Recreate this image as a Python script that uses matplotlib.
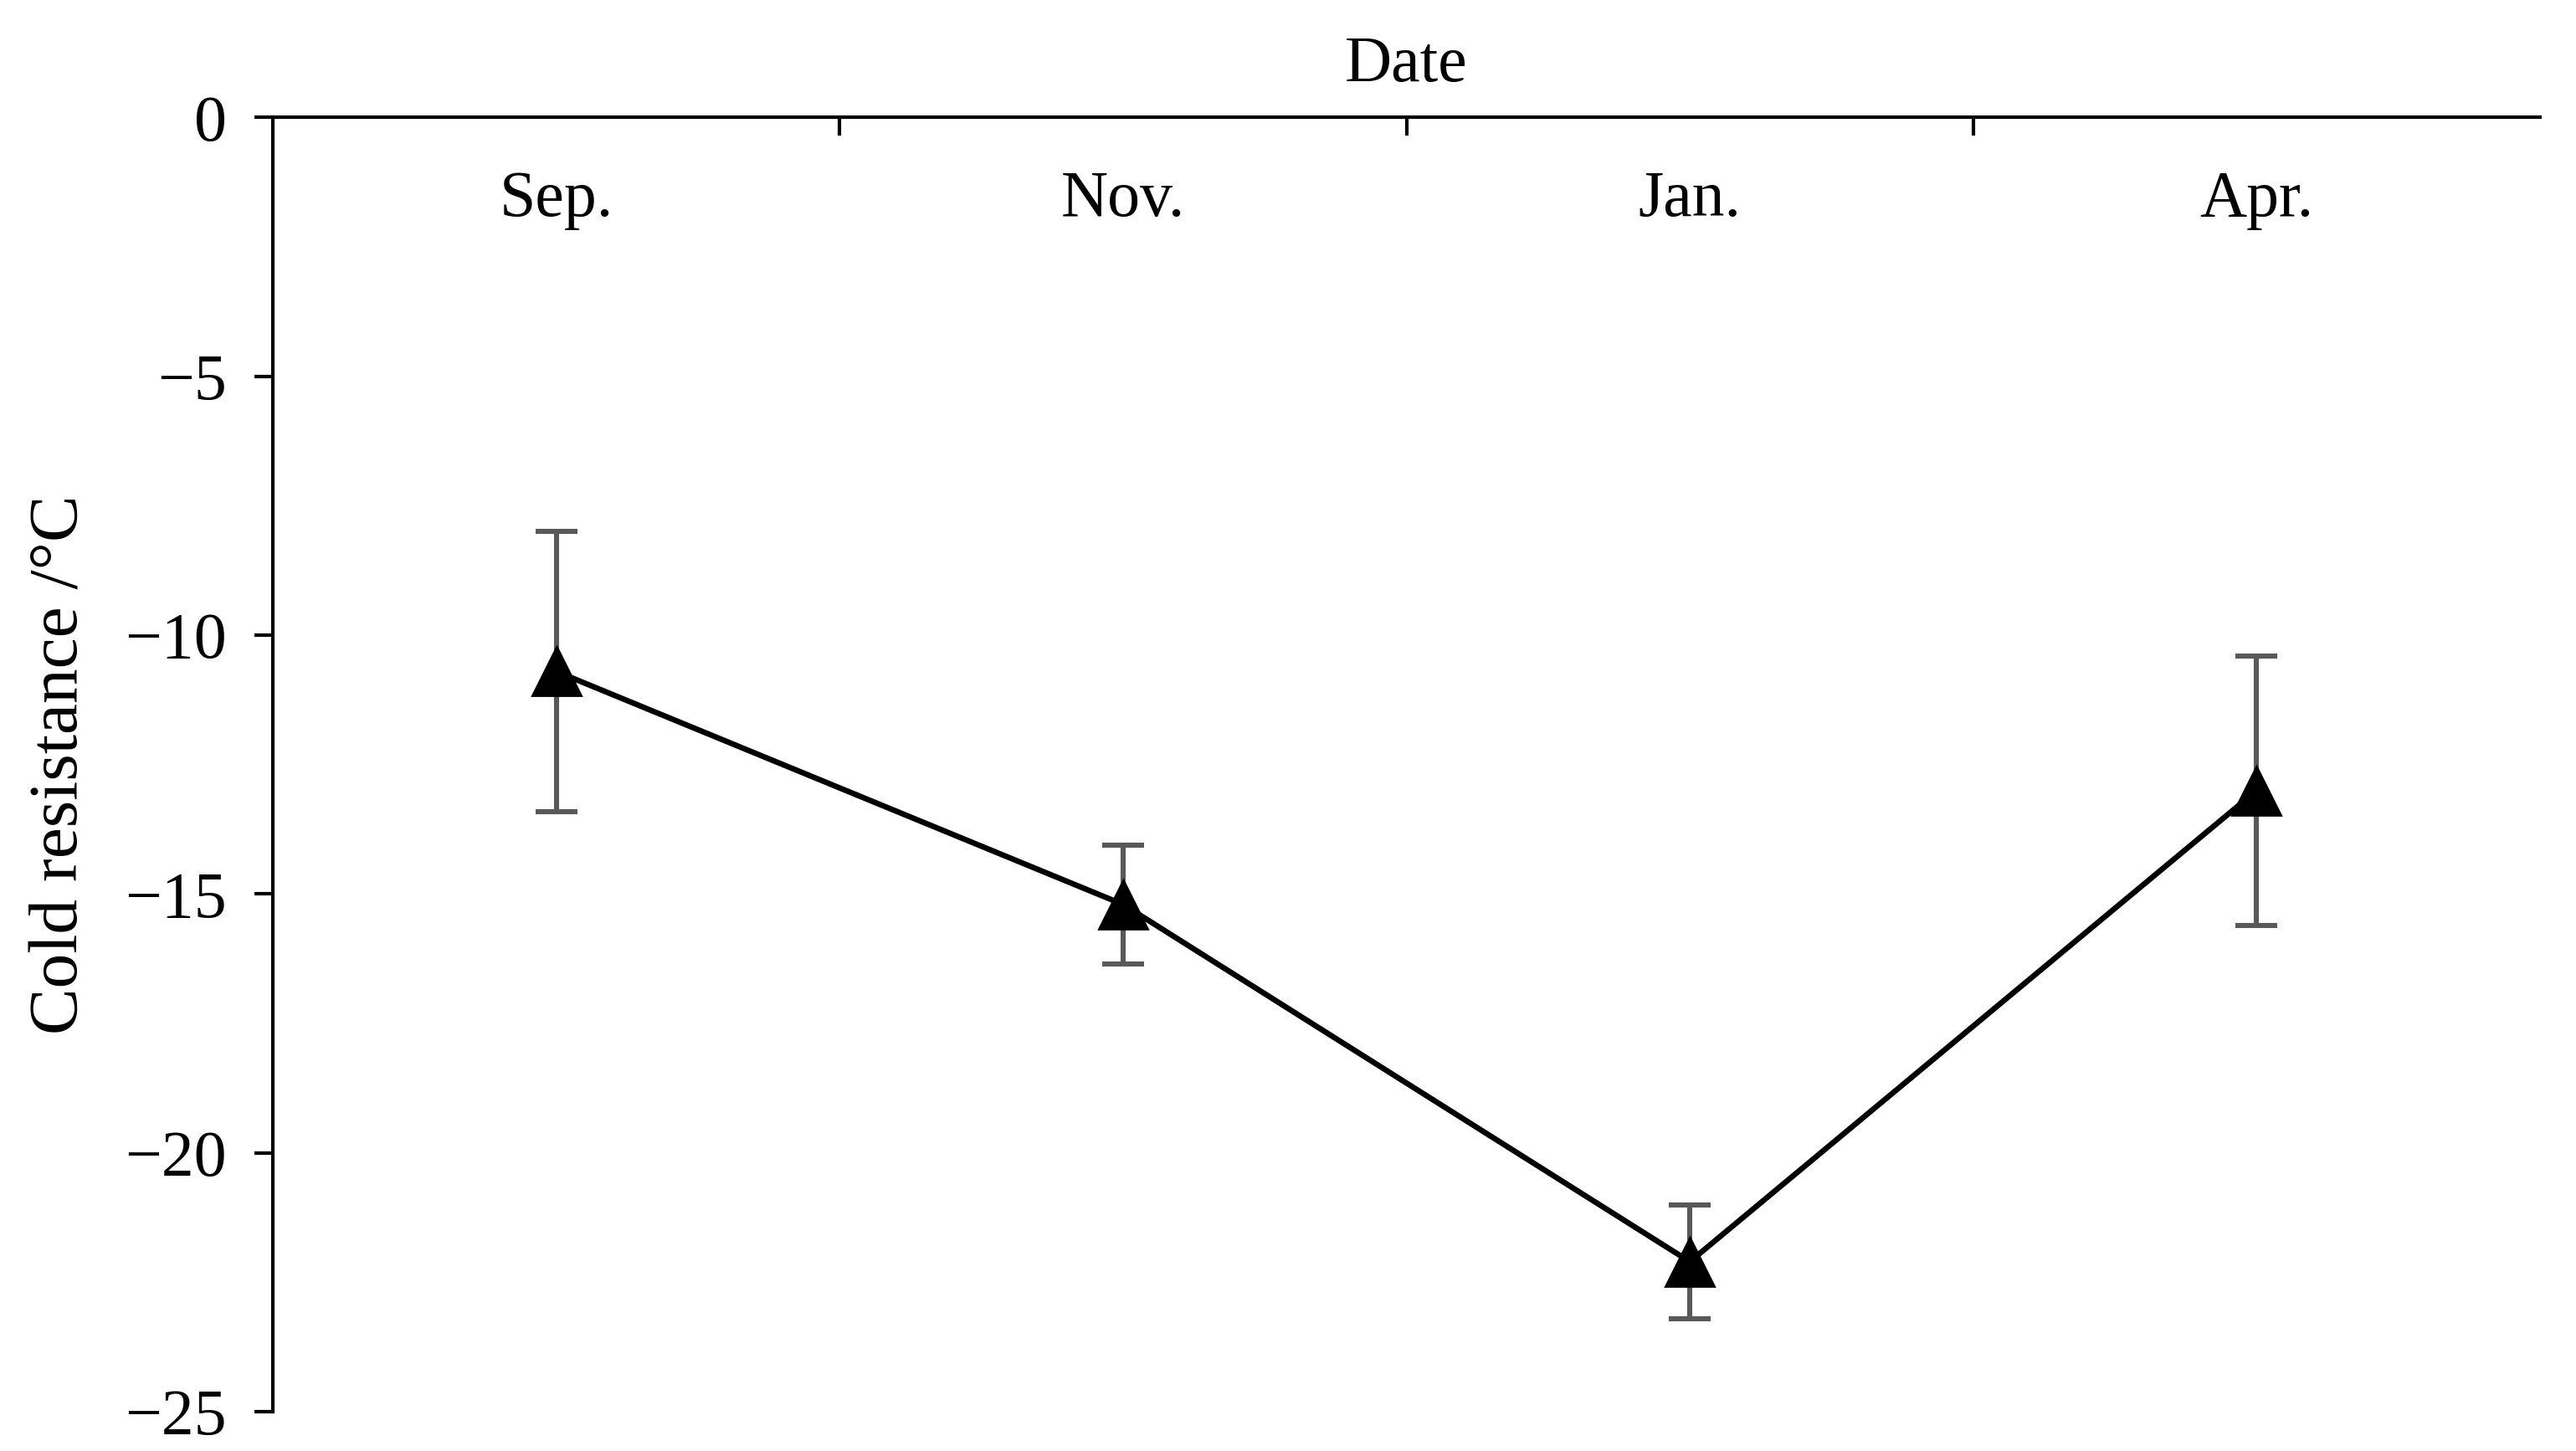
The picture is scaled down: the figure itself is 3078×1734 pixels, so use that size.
import matplotlib.pyplot as plt
import numpy as np

months = ["Sep.", "Nov.", "Jan.", "Apr."]
cold_resistance = [-10.7, -15.2, -22.1, -13.0]
err = [2.7, 1.15, 1.1, 2.6]

plt.rcParams['font.family'] = ['Liberation Serif', 'DejaVu Serif']

fig = plt.figure(figsize=(15.39, 8.67), dpi=200)
ax = fig.add_axes([0.106, 0.027, 0.88, 0.892])

x = np.arange(len(months)) + 0.5
ax.errorbar(x, cold_resistance, yerr=err, fmt='none', ecolor='#595959',
            elinewidth=2.2, capsize=9, capthick=2.2, zorder=1)
ax.plot(x, cold_resistance, color='black', lw=2.4, marker='^', ms=21,
        mfc='black', mec='black', zorder=2)

ax.set_xlim(0, 4)
ax.set_ylim(-25, 0)
ax.set_yticks([0, -5, -10, -15, -20, -25])
ax.set_yticklabels(['0', '\u22125', '\u221210', '\u221215', '\u221220', '\u221225'])

ax.xaxis.tick_top()
ax.set_xticks([1, 2, 3])
ax.set_xticklabels([])
ax.tick_params(axis='x', direction='in', length=8, width=1.5)
ax.tick_params(axis='y', direction='out', length=8, width=1.5, labelsize=28, pad=12)
for xi, m in zip(x, months):
    ax.text(xi, -1.6, m, ha='center', va='center', fontsize=28)

ax.xaxis.set_label_position('top')
ax.set_xlabel('Date', fontsize=28, labelpad=12)
ax.set_ylabel('Cold resistance /\u00b0C', fontsize=30, labelpad=14)

for s in ['right', 'bottom']:
    ax.spines[s].set_visible(False)
for s in ['top', 'left']:
    ax.spines[s].set_linewidth(1.5)

fig.savefig('out.png', dpi=200)
